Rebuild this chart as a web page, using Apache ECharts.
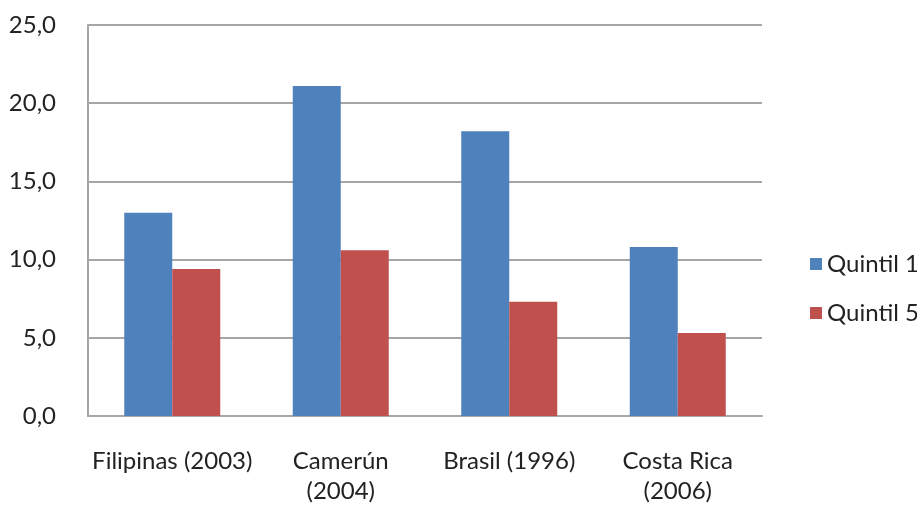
<!DOCTYPE html>
<html>
<head>
<meta charset="utf-8">
<script src="https://cdn.jsdelivr.net/npm/echarts@6/dist/echarts.min.js"></script>
<style>
  html, body { margin: 0; padding: 0; background: #ffffff; }
  #chart { width: 917px; height: 506px; }
</style>
</head>
<body>
<div id="chart"></div>
<script>
// Categories (line breaks where the labels wrap)
const categories = ['Filipinas (2003)', 'Camerún\n(2004)', 'Brasil (1996)', 'Costa Rica\n(2006)'];
// Series values
const quintil1 = [13.0, 21.1, 18.2, 10.8];
const quintil5 = [9.4, 10.6, 7.3, 5.3];
const seriesNames = ['Quintil 1', 'Quintil 5'];

const FONT = 'Lato';
const TEXT = '#222222';
const GRID_COLOR = '#a6a6a6';

const chart = echarts.init(document.getElementById('chart'));
chart.setOption({
  animation: false,
  backgroundColor: '#ffffff',
  grid: { left: 88, right: 155, top: 25, bottom: 86 },
  legend: {
    orient: 'vertical',
    left: 805,
    top: 247,
    itemWidth: 12,
    itemHeight: 12,
    itemGap: 25,
    itemTextGap: 8,
    icon: 'rect',
    textStyle: { fontFamily: FONT, fontSize: 24, lineHeight: 24, color: TEXT },
    data: seriesNames
  },
  xAxis: {
    type: 'category',
    data: categories,
    axisLine: { lineStyle: { color: GRID_COLOR, width: 2 } },
    axisTick: { show: false },
    axisLabel: {
      interval: 0,
      margin: 30,
      lineHeight: 30,
      fontFamily: FONT, fontSize: 24, color: TEXT
    }
  },
  yAxis: {
    type: 'value',
    min: 0, max: 25, interval: 5,
    axisLine: { show: true, lineStyle: { color: GRID_COLOR, width: 2 } },
    axisTick: { show: false },
    splitLine: { lineStyle: { color: GRID_COLOR, width: 2 } },
    axisLabel: {
      margin: 32,
      fontFamily: FONT, fontSize: 24, color: TEXT,
      formatter: v => v.toFixed(1).replace('.', ',')
    }
  },
  series: [
    {
      name: seriesNames[0], type: 'bar', data: quintil1,
      barWidth: 48, barGap: '0%',
      itemStyle: { color: '#4f81bd' }
    },
    {
      name: seriesNames[1], type: 'bar', data: quintil5,
      barWidth: 48, barGap: '0%',
      itemStyle: { color: '#c0504d' }
    }
  ]
});
</script>
</body>
</html>
